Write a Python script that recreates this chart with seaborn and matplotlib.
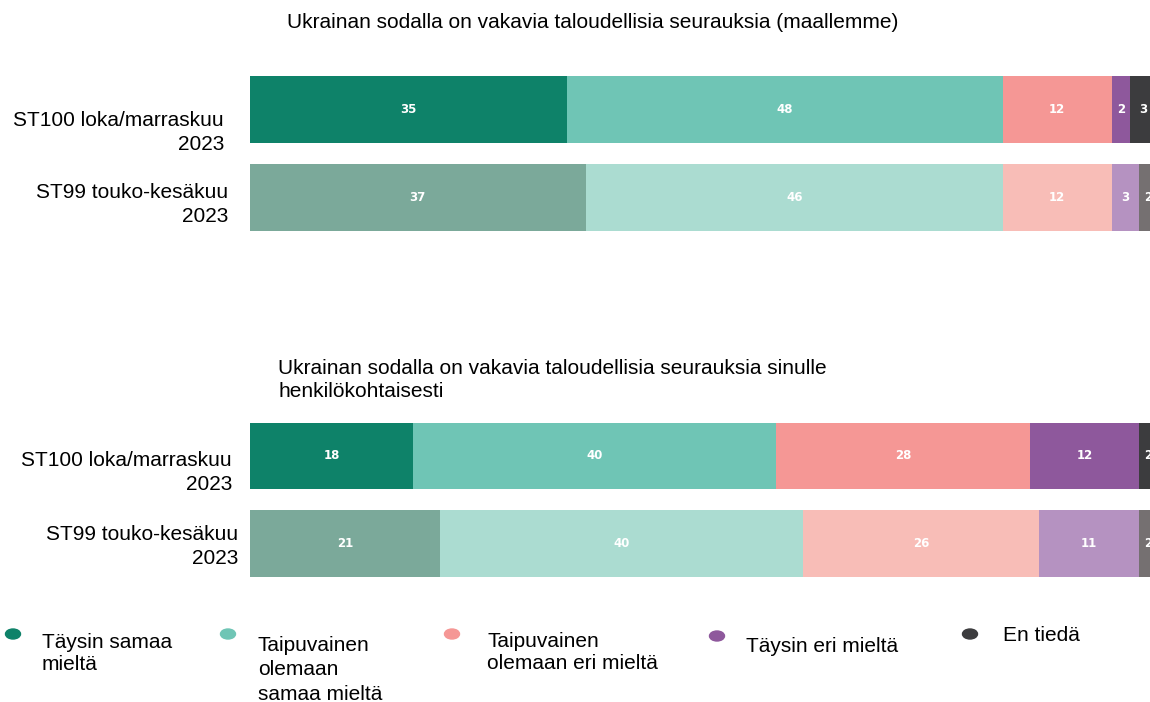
import pandas as pd
import seaborn as sns
import matplotlib.pyplot as plt
from matplotlib.patches import Ellipse

sns.set_style("white")
plt.rcParams['font.family'] = ['Liberation Sans', 'DejaVu Sans']
plt.rcParams['text.color'] = 'black'

# data
periods = ["ST100 loka/marraskuu\n2023", "ST99 touko-kesäkuu\n2023"]
categories = ["Täysin samaa mieltä", "Taipuvainen olemaan samaa mieltä",
              "Taipuvainen olemaan eri mieltä", "Täysin eri mieltä", "En tiedä"]
legend_labels = ["Täysin samaa\nmieltä", "Taipuvainen\nolemaan\nsamaa mieltä",
                 "Taipuvainen\nolemaan eri mieltä", "Täysin eri mieltä", "En tiedä"]
title_top = "Ukrainan sodalla on vakavia taloudellisia seurauksia (maallemme)"
title_bottom = "Ukrainan sodalla on vakavia taloudellisia seurauksia sinulle\nhenkilökohtaisesti"
values_top = {"ST100": [35, 48, 12, 2, 3], "ST99": [37, 46, 12, 3, 2]}
values_bottom = {"ST100": [18, 40, 28, 12, 2], "ST99": [21, 40, 26, 11, 2]}

strong = ["#0e8269", "#6fc5b5", "#f59795", "#8e589c", "#3c3c3e"]
faded = ["#7ba99a", "#abdcd1", "#f8bdb7", "#b592c1", "#757071"]

fig = plt.figure(figsize=(11.5, 7.02), dpi=100)


def stacked(ax, vals, label_pos):
    rows = [vals["ST100"], vals["ST99"]]
    # draw cumulative bars from the longest to the shortest
    for k in range(len(categories) - 1, -1, -1):
        df = pd.DataFrame({"period": periods,
                           "cum": [sum(r[:k + 1]) for r in rows]})
        sns.barplot(data=df, x="cum", y="period", hue="period", orient="h",
                    palette=[strong[k], faded[k]], width=0.76, saturation=1,
                    linewidth=0, legend=False, ax=ax)
    for i, r in enumerate(rows):
        left = 0
        for v in r:
            ax.text(left + v / 2, i, str(v), ha="center", va="center",
                    color="white", fontsize=8.5, fontweight="bold",
                    family="DejaVu Sans")
            left += v
    for i, (x, dy) in enumerate(label_pos):
        ax.text(x, i + dy, periods[i], ha="right", va="center", fontsize=15,
                linespacing=1.3)
    ax.set_xlim(0, 100)
    ax.set_ylim(1.5, -0.5)
    ax.set_xlabel("")
    ax.set_ylabel("")
    ax.set_xticks([])
    ax.set_yticks([])
    sns.despine(ax=ax, left=True, bottom=True)


ax1 = fig.add_axes([250 / 1150, 0.656, 907 / 1150, 0.2507])
stacked(ax1, values_top, [(-2.87, 0.26), (-2.43, 0.08)])
ax2 = fig.add_axes([250 / 1150, 0.1631, 907 / 1150, 0.25])
stacked(ax2, values_bottom, [(-1.98, 0.19), (-1.32, 0.03)])

# overlay in pixel coordinates for titles and legend
ov = fig.add_axes([0, 0, 1, 1])
ov.set_xlim(0, 1150)
ov.set_ylim(702, 0)
ov.axis("off")
ov.text(593, 23, title_top, ha="center", va="center", fontsize=15)
ov.text(278, 359, title_bottom, ha="left", va="top", fontsize=15,
        linespacing=1.25)

marker_xy = [(13, 634), (228, 634), (452, 634), (717, 636), (970, 634)]
text_xy = [(42, 641), (258, 644), (487, 640), (746, 645), (1003, 634)]
spacing = [1.2, 1.35, 1.2, 1.2, 1.2]
for c, (mx, my), (tx, ty), lab, ls in zip(strong, marker_xy, text_xy,
                                          legend_labels, spacing):
    ov.add_patch(Ellipse((mx, my), 15, 10, color=c))
    ov.text(tx, ty - 8, lab, ha="left", va="top", fontsize=15, linespacing=ls)

fig.savefig("out.png", dpi=100)
